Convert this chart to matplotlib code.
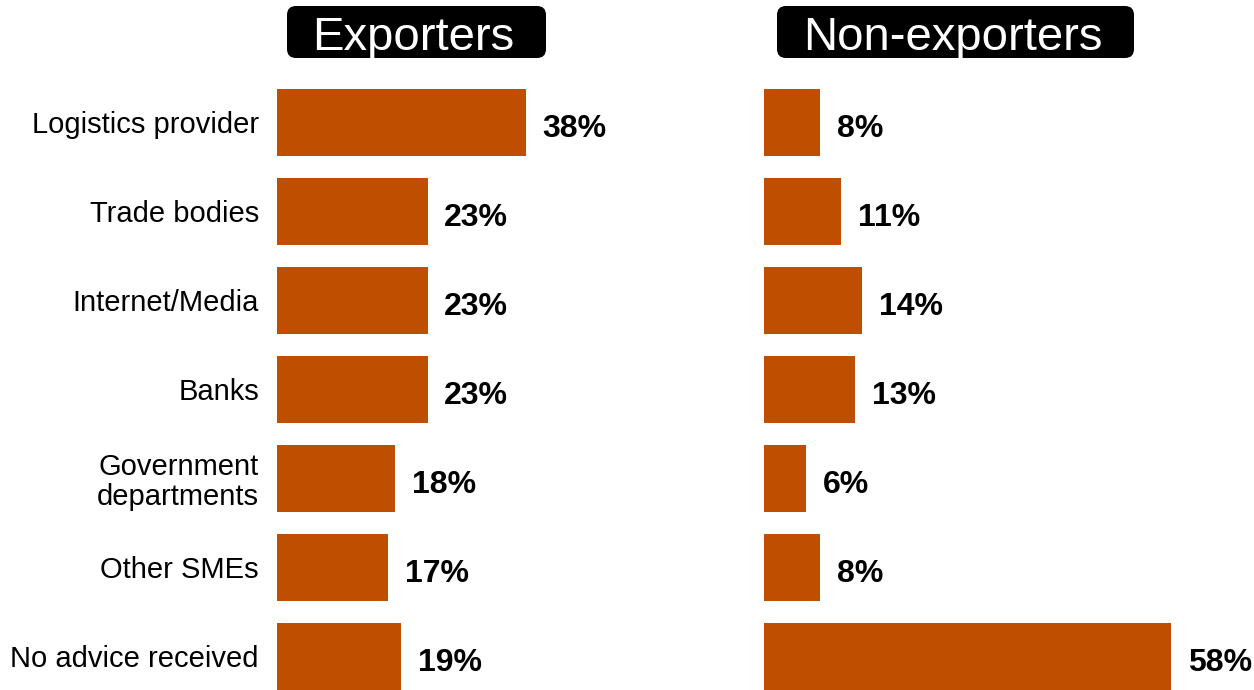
import matplotlib.pyplot as plt
from matplotlib.patches import FancyBboxPatch

plt.rcParams['font.family'] = ['Liberation Sans', 'DejaVu Sans']

categories = ["Logistics provider", "Trade bodies", "Internet/Media", "Banks",
              "Government\ndepartments", "Other SMEs", "No advice received"]
exporters = [38, 23, 23, 23, 18, 17, 19]
non_exporters = [8, 11, 14, 13, 6, 8, 58]
panel_titles = ["Exporters", "Non-exporters"]

BAR_COLOR = "#BF4E00"

fig = plt.figure(figsize=(12.54, 6.9), dpi=100)

# axes rectangles in figure fractions: left panel keeps category labels
ax_left = fig.add_axes([277 / 1254, 0.0, 262 / 1254, 612 / 690])
ax_right = fig.add_axes([764 / 1254, 0.0, 421 / 1254, 612 / 690])

ypos = list(range(len(categories)))

for ax, values, xmax in [(ax_left, exporters, 40), (ax_right, non_exporters, 60)]:
    bars = ax.barh(ypos, values, height=0.75, color=BAR_COLOR, clip_on=False)
    ax.set_xlim(0, xmax)
    ax.set_ylim(6.38, -0.5)
    for spine in ax.spines.values():
        spine.set_visible(False)
    ax.set_xticks([])
    for bar, v in zip(bars, values):
        ax.annotate(f"{v}%", (bar.get_width(), bar.get_y() + bar.get_height() / 2),
                    xytext=(12, -5), textcoords="offset points",
                    ha="left", va="center", fontsize=23, fontweight="bold",
                    clip_on=False)

ax_left.set_yticks(ypos)
ax_left.set_yticklabels(categories, fontsize=21, linespacing=1.1)
ax_left.tick_params(axis="y", length=0, pad=13)
ax_right.set_yticks([])

# header boxes drawn on a pixel-scaled overlay
overlay = fig.add_axes([0, 0, 1, 1], zorder=-1)
overlay.set_xlim(0, 1254)
overlay.set_ylim(690, 0)
overlay.axis("off")
for (x0, x1), title in zip([(287, 546), (777, 1134)], panel_titles):
    box = FancyBboxPatch((x0, 6), x1 - x0, 52,
                         boxstyle="round,pad=0,rounding_size=9",
                         fc="black", ec="none")
    overlay.add_patch(box)
    overlay.text((x0 + x1) / 2 - 3, 38, title, color="white", fontsize=34,
                 ha="center", va="center")

fig.savefig("out.png", dpi=100)
